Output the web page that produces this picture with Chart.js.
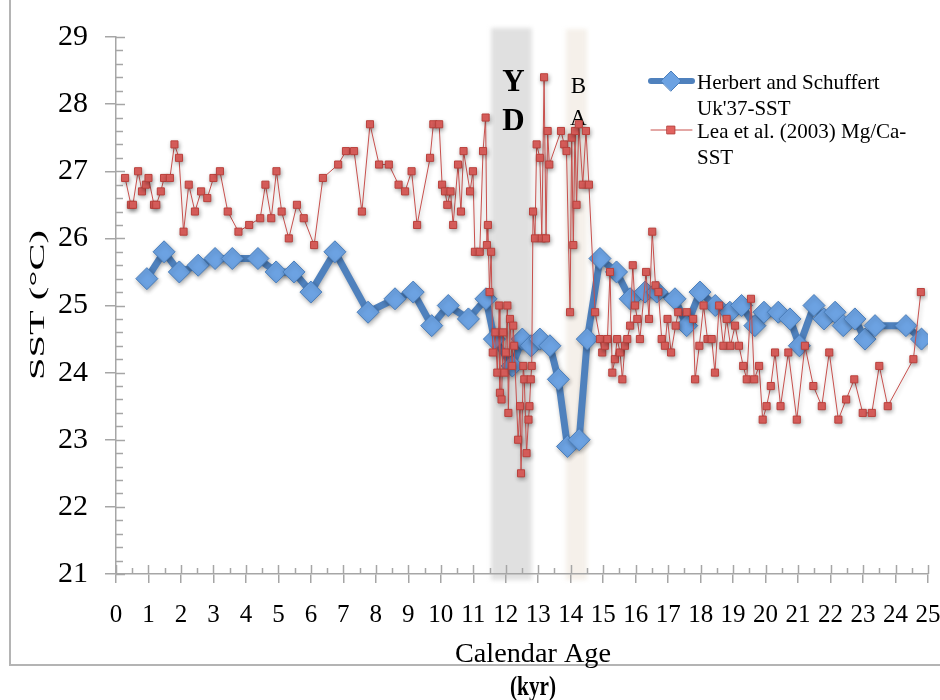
<!DOCTYPE html>
<html>
<head>
<meta charset="utf-8">
<script src="https://cdn.jsdelivr.net/npm/chart.js@4.4.1/dist/chart.umd.min.js"></script>
<style>
  body { margin: 0; background: #fff; }
  canvas { display: block; }
</style>
</head>
<body>
<canvas id="sstChart" width="940" height="700"></canvas>
<script>
// Herbert and Schuffert Uk'37-SST
const herbertAge = [0.95, 1.48, 1.95, 2.53, 3.05, 3.58, 4.37, 4.93, 5.48, 6.0,
  6.74, 7.76, 8.59, 9.15, 9.72, 10.23, 10.85, 11.39, 11.65, 12.2,
  12.51, 12.78, 13.05, 13.36, 13.62, 13.9, 14.26, 14.51, 14.9, 15.41,
  15.83, 16.29, 16.65, 17.21, 17.57, 17.98, 18.45, 18.9, 19.26, 19.67,
  19.95, 20.39, 20.75, 21.04, 21.49, 21.8, 22.14, 22.39, 22.75, 23.06,
  23.37, 24.32, 24.8];
const herbertSst = [25.4, 25.8, 25.5, 25.6, 25.7, 25.7, 25.7, 25.5, 25.5, 25.2,
  25.8, 24.9, 25.1, 25.2, 24.7, 25.0, 24.8, 25.1, 24.5, 24.1,
  24.5, 24.4, 24.5, 24.4, 23.9, 22.9, 23.0, 24.5, 25.7, 25.5,
  25.1, 25.2, 25.2, 25.1, 24.7, 25.2, 25.0, 24.9, 25.0, 24.7,
  24.9, 24.9, 24.8, 24.4, 25.0, 24.8, 24.9, 24.7, 24.8, 24.5,
  24.7, 24.7, 24.5];

// Lea et al. (2003) Mg/Ca-SST
const leaAge = [0.28, 0.46, 0.52, 0.68, 0.8, 0.92, 1.0, 1.17, 1.24, 1.38,
  1.48, 1.66, 1.8, 1.94, 2.08, 2.24, 2.43, 2.62, 2.81, 3.0,
  3.2, 3.44, 3.77, 4.1, 4.44, 4.6, 4.78, 4.94, 5.1, 5.32,
  5.57, 5.78, 6.1, 6.37, 6.84, 7.08, 7.33, 7.57, 7.82, 8.1,
  8.4, 8.7, 8.9, 9.1, 9.27, 9.67, 9.77, 9.95, 10.04, 10.13,
  10.2, 10.3, 10.38, 10.53, 10.62, 10.7, 10.9, 10.99, 11.05, 11.2,
  11.3, 11.38, 11.42, 11.45, 11.5, 11.55, 11.6, 11.68, 11.74, 11.8,
  11.82, 11.87, 11.92, 11.96, 12.0, 12.05, 12.08, 12.13, 12.2, 12.23,
  12.26, 12.38, 12.44, 12.47, 12.54, 12.57, 12.64, 12.7, 12.73, 12.77,
  12.8, 12.84, 12.9, 12.95, 13.05, 13.11, 13.18, 13.24, 13.29, 13.34,
  13.7, 13.8, 13.87, 13.98, 14.03, 14.08, 14.13, 14.18, 14.25, 14.37,
  14.47, 14.56, 14.75, 14.9, 14.97, 15.05, 15.13, 15.21, 15.28, 15.36,
  15.43, 15.52, 15.59, 15.67, 15.74, 15.83, 15.91, 15.98, 16.05, 16.13,
  16.32, 16.41, 16.51, 16.61, 16.7, 16.8, 16.9, 16.98, 17.09, 17.23,
  17.31, 17.57, 17.77, 17.83, 17.96, 18.09, 18.21, 18.34, 18.44, 18.57,
  18.7, 18.8, 18.92, 19.06, 19.18, 19.31, 19.42, 19.55, 19.65, 19.8,
  19.91, 20.03, 20.16, 20.29, 20.46, 20.7, 20.96, 21.21, 21.47, 21.73,
  21.96, 22.24, 22.48, 22.73, 22.99, 23.27, 23.5, 23.76, 24.55, 24.78];
const leaSst = [26.9, 26.5, 26.5, 27.0, 26.7, 26.8, 26.9, 26.5, 26.5, 26.7,
  26.9, 26.9, 27.4, 27.2, 26.1, 26.8, 26.4, 26.7, 26.6, 26.9,
  27.0, 26.4, 26.1, 26.2, 26.3, 26.8, 26.3, 27.0, 26.4, 26.0,
  26.5, 26.3, 25.9, 26.9, 27.1, 27.3, 27.3, 26.4, 27.7, 27.1,
  27.1, 26.8, 26.7, 27.0, 26.2, 27.2, 27.7, 27.7, 26.8, 26.7,
  26.5, 26.7, 26.2, 27.1, 26.4, 27.3, 26.7, 27.0, 25.8, 25.8,
  27.3, 27.8, 25.9, 26.2, 25.2, 25.8, 24.3, 24.6, 24.0, 25.0,
  23.7, 23.6, 24.6, 24.0, 24.3, 25.0, 23.4, 24.8, 24.1, 24.7,
  24.4, 23.0, 23.5, 22.5, 24.1, 23.9, 22.8, 23.3, 23.5, 23.9,
  24.1, 26.4, 26.0, 27.4, 27.2, 26.0, 28.4, 26.0, 27.6, 27.1,
  27.6, 27.4, 27.3, 24.9, 27.5, 25.9, 27.6, 26.5, 27.7, 26.8,
  27.6, 26.8, 24.9, 24.5, 24.3, 24.4, 24.5, 25.5, 24.0, 24.2,
  24.5, 24.3, 23.9, 24.4, 24.5, 24.7, 25.6, 25.0, 24.8, 24.5,
  25.5, 24.8, 26.1, 25.3, 25.2, 24.5, 24.4, 24.8, 24.3, 24.7,
  24.9, 24.9, 24.8, 23.9, 24.4, 25.0, 24.5, 24.5, 24.0, 25.0,
  24.4, 24.8, 24.4, 24.7, 24.4, 24.1, 23.9, 25.1, 23.9, 24.1,
  23.3, 23.5, 23.8, 24.3, 23.5, 24.3, 23.3, 24.4, 23.8, 23.5,
  24.3, 23.3, 23.6, 23.9, 23.4, 23.4, 24.1, 23.5, 24.2, 25.2];

const xRange = [0, 25];
const yRange = [21, 29];
const ydBand = [11.55, 12.8];
const baBand = [13.85, 14.5];
const legendLabels = [["Herbert and Schuffert", "Uk'37-SST"], ["Lea et al. (2003) Mg/Ca-", "SST"]];

const BLUE = '#4F81BD';
const RED = '#C8504D';
const AXIS = '#a6a6a6';
const SERIF = "'Liberation Serif', 'DejaVu Serif', serif";

function toPoints(xs, ys) {
  return xs.map((x, i) => ({ x: x, y: ys[i] }));
}

// draw text squeezed/stretched to a given width (and optional height stretch)
function fitText(ctx, text, cx, cy, size, width, bold, angle, stretchY) {
  ctx.save();
  ctx.font = (bold ? 'bold ' : '') + size + 'px ' + SERIF;
  const w = ctx.measureText(text).width;
  ctx.translate(cx, cy);
  if (angle) ctx.rotate(angle);
  ctx.scale(width / w, stretchY || 1);
  ctx.textAlign = 'center';
  ctx.textBaseline = 'middle';
  ctx.fillStyle = '#000';
  ctx.fillText(text, 0, 0);
  ctx.restore();
}

const decor = {
  id: 'decor',
  beforeDraw(chart) {
    const { ctx, chartArea: a, scales: { x } } = chart;
    ctx.save();
    ctx.fillStyle = '#fff';
    ctx.fillRect(0, 0, chart.width, chart.height);
    // outer frame
    ctx.strokeStyle = '#b4b4b4';
    ctx.lineWidth = 2;
    ctx.strokeRect(10, -5, chart.width + 10, 670);
    // YD and BA bands
    ctx.filter = 'blur(2px)';
    ctx.fillStyle = '#e0e0e0';
    let x1 = x.getPixelForValue(ydBand[0]), x2 = x.getPixelForValue(ydBand[1]);
    ctx.fillRect(x1, a.top - 9, x2 - x1, a.bottom - a.top + 15);
    ctx.fillStyle = '#f5f0ea';
    x1 = x.getPixelForValue(baBand[0]); x2 = x.getPixelForValue(baBand[1]);
    ctx.fillRect(x1, a.top - 8, x2 - x1, a.bottom - a.top + 14);
    ctx.restore();
  },
  beforeDatasetsDraw(chart) {
    const { ctx, chartArea: a, scales: { x, y } } = chart;
    ctx.save();
    ctx.strokeStyle = AXIS;
    ctx.lineWidth = 1.5;
    ctx.beginPath();
    for (let i = 0; i <= (yRange[1] - yRange[0]) * 5; i++) {
      const py = Math.round(y.getPixelForValue(yRange[0] + i * 0.2)) + 0.5;
      ctx.moveTo(a.left, py);
      ctx.lineTo(a.left + (i % 5 === 0 ? 9 : 7), py);
    }
    for (let i = 0; i <= (xRange[1] - xRange[0]) * 2; i++) {
      const px = Math.round(x.getPixelForValue(xRange[0] + i * 0.5)) + 0.5;
      ctx.moveTo(px, a.bottom);
      ctx.lineTo(px, a.bottom - (i % 2 === 0 ? 9 : 6));
    }
    ctx.stroke();
    // band letters
    const xy = x.getPixelForValue((ydBand[0] + ydBand[1]) / 2);
    const xb = x.getPixelForValue((baBand[0] + baBand[1]) / 2);
    ctx.fillStyle = '#000';
    ctx.textAlign = 'center';
    ctx.textBaseline = 'middle';
    ctx.font = 'bold 31px ' + SERIF;
    ctx.fillText('Y', xy + 2, 83);
    ctx.fillText('D', xy + 2, 122);
    ctx.font = '23px ' + SERIF;
    ctx.fillText('B', xb + 2, 87);
    ctx.fillText('A', xb + 2, 119);
    ctx.restore();
  },
  beforeDatasetDraw(chart, args) {
    const ctx = chart.ctx;
    ctx.save();
    ctx.shadowColor = 'rgba(0,0,0,0.3)';
    ctx.shadowBlur = 4;
    ctx.shadowOffsetX = 1;
    ctx.shadowOffsetY = 2;
  },
  afterDatasetDraw(chart) {
    chart.ctx.restore();
  },
  afterDraw(chart) {
    const ctx = chart.ctx;
    ctx.save();
    // axis titles
    fitText(ctx, 'Calendar Age', 533, 655, 24, 156, false, 0, 1.15);
    fitText(ctx, '(kyr)', 533, 688, 25, 46, true, 0, 1.1);
    fitText(ctx, 'SST (\u00B0C)', 38, 305, 22, 150, false, -Math.PI / 2);
    // legend
    const rows = [
      { y: 81, color: BLUE, width: 6, style: 'rectRot', r: 10, fill: '#6CA2E2', stroke: '#4A7EBB' },
      { y: 130, color: RED, width: 1, style: 'rect', r: 5.5, fill: '#E2625F', stroke: '#B9403C' }
    ];
    rows.forEach((row, i) => {
      ctx.save();
      ctx.strokeStyle = row.color;
      ctx.lineWidth = row.width;
      ctx.lineCap = 'round';
      ctx.beginPath();
      ctx.moveTo(651, row.y);
      ctx.lineTo(692, row.y);
      ctx.stroke();
      ctx.fillStyle = row.fill;
      ctx.strokeStyle = row.stroke;
      ctx.lineWidth = 1;
      Chart.helpers.drawPoint(ctx, { pointStyle: row.style, radius: row.r, borderWidth: 1, rotation: 0 }, 671, row.y);
      ctx.restore();
      ctx.fillStyle = '#000';
      ctx.font = '21px ' + SERIF;
      ctx.textAlign = 'left';
      ctx.textBaseline = 'middle';
      legendLabels[i].forEach((line, j) => {
        ctx.fillText(line, 697, row.y + 2 + j * 26);
      });
    });
    ctx.restore();
  }
};

new Chart(document.getElementById('sstChart'), {
  type: 'line',
  data: {
    datasets: [{
      label: "Herbert and Schuffert Uk'37-SST",
      data: toPoints(herbertAge, herbertSst),
      borderColor: BLUE,
      borderWidth: 7,
      pointStyle: 'rectRot',
      pointRadius: 11,
      pointBackgroundColor: '#6CA2E2',
      pointBorderColor: '#4A7EBB',
      pointBorderWidth: 1,
      order: 2
    }, {
      label: 'Lea et al. (2003) Mg/Ca-SST',
      data: toPoints(leaAge, leaSst),
      borderColor: RED,
      borderWidth: 1,
      pointStyle: 'rect',
      pointRadius: 5,
      pointBackgroundColor: '#E2625F',
      pointBorderColor: '#B9403C',
      pointBorderWidth: 1,
      order: 1
    }]
  },
  options: {
    responsive: false,
    animation: false,
    layout: { padding: { left: 10, top: 37, right: 12, bottom: 0 } },
    plugins: { legend: { display: false }, tooltip: { enabled: false } },
    scales: {
      x: {
        type: 'linear',
        min: xRange[0],
        max: xRange[1],
        ticks: { stepSize: 1, color: '#000', padding: 17, maxRotation: 0, autoSkip: false,
          font: { family: SERIF, size: 25 } },
        grid: { drawOnChartArea: false, tickLength: 9, color: AXIS, lineWidth: 1.5 },
        border: { color: AXIS, width: 1.5 },
        afterFit: s => { s.height = 126; s.paddingLeft = 0; s.paddingRight = 0; }
      },
      y: {
        min: yRange[0],
        max: yRange[1],
        ticks: { stepSize: 1, color: '#000', padding: 17,
          font: { family: SERIF, size: 30 } },
        grid: { drawOnChartArea: false, tickLength: 11, color: AXIS, lineWidth: 1.5 },
        border: { color: AXIS, width: 1.5 },
        afterFit: s => { s.width = 106; s.paddingTop = 0; s.paddingBottom = 0; }
      }
    }
  },
  plugins: [decor]
});
</script>
</body>
</html>
